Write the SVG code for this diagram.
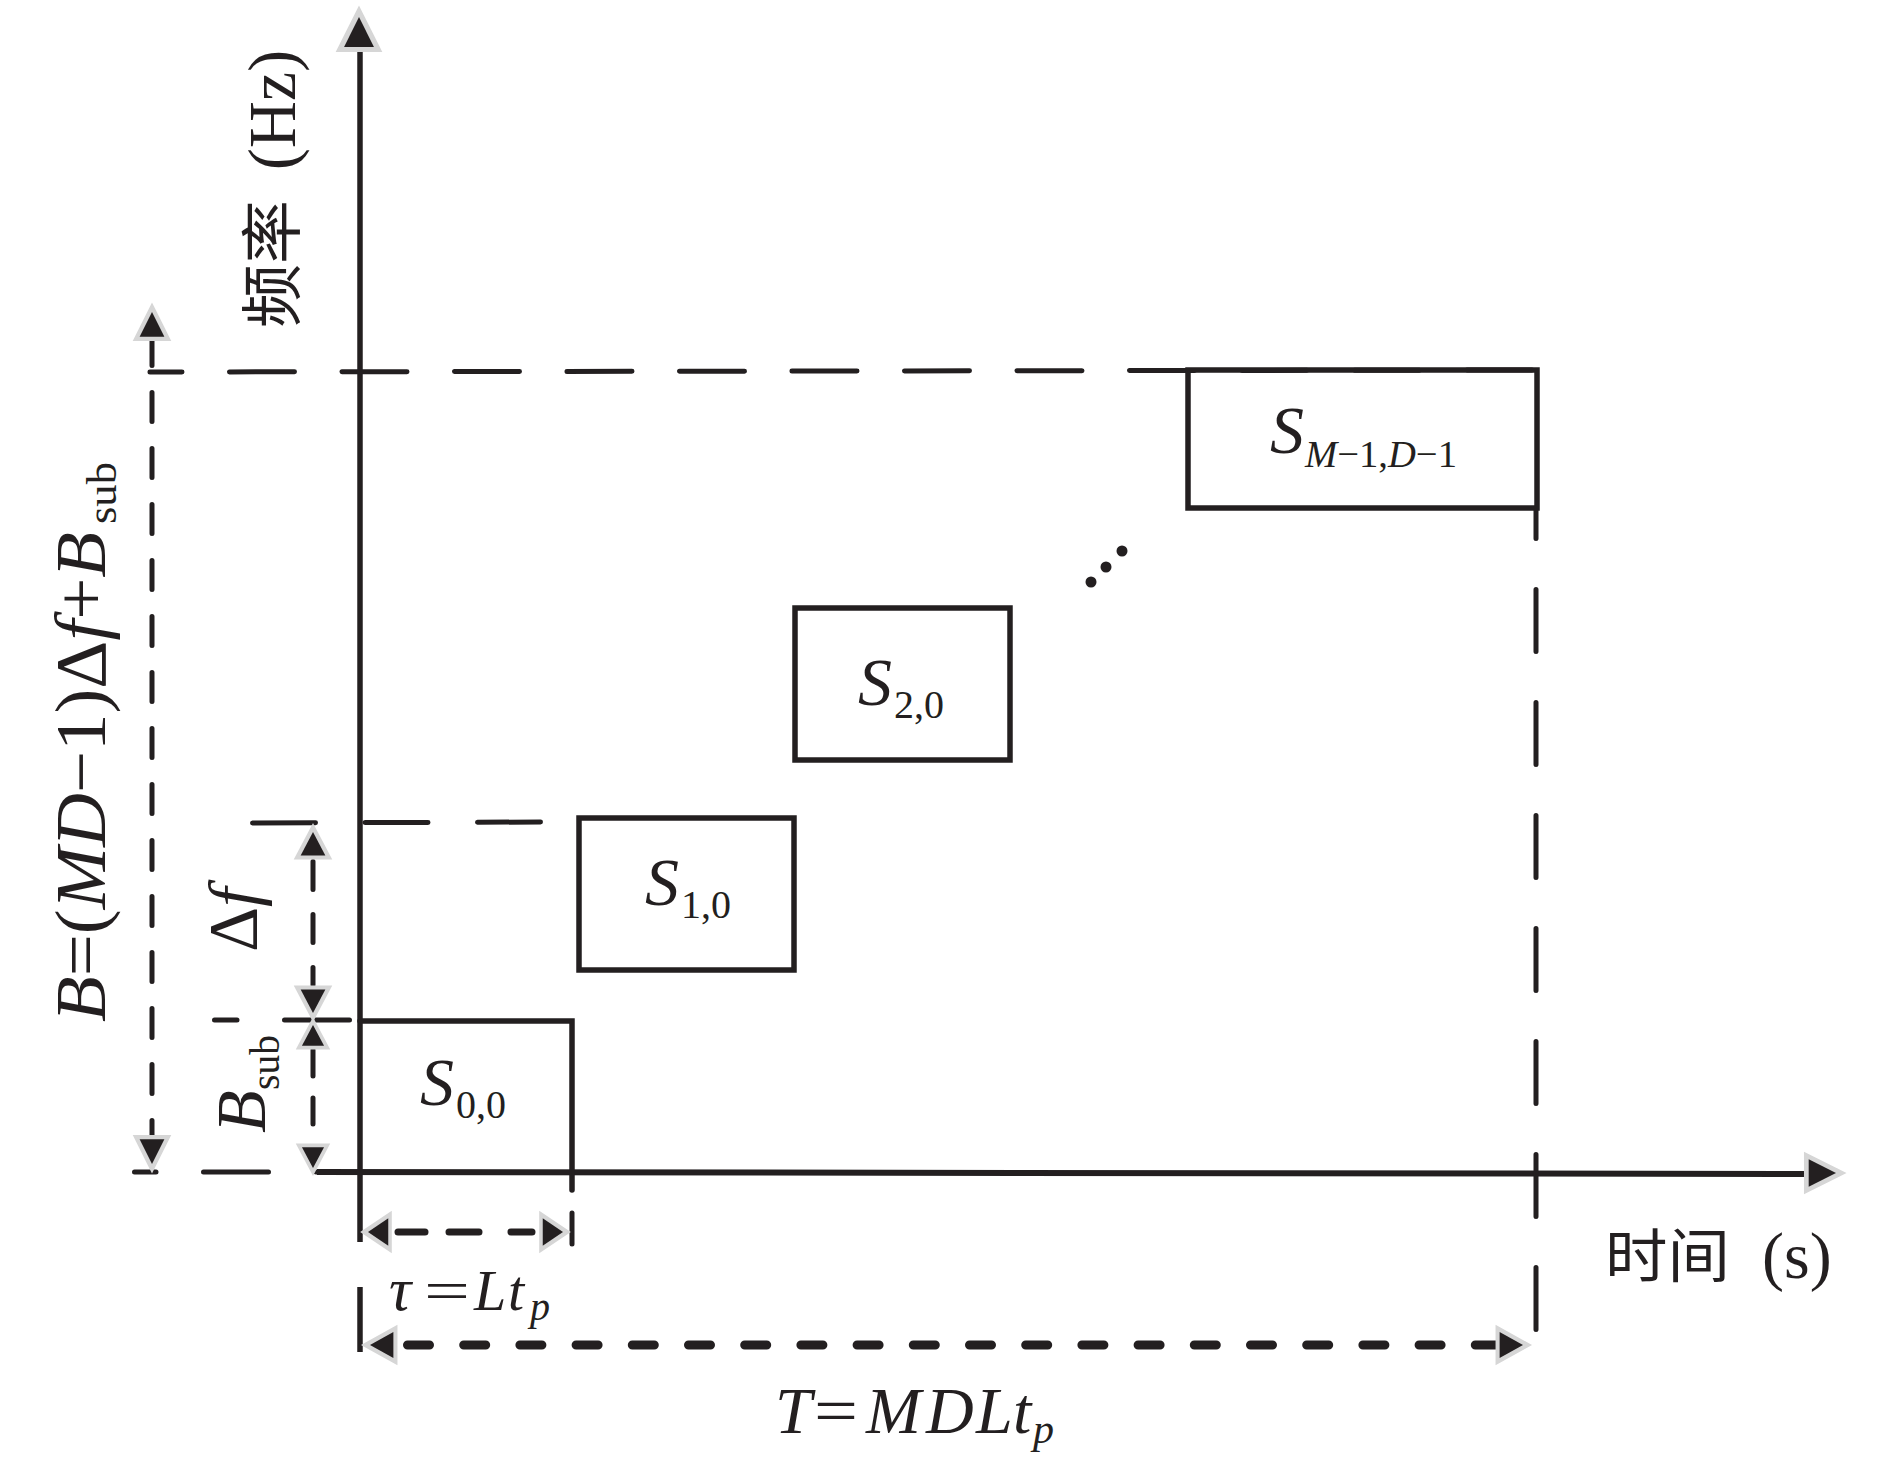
<svg xmlns="http://www.w3.org/2000/svg" xmlns:xlink="http://www.w3.org/1999/xlink" width="1890" height="1465" viewBox="0 0 1890 1465">
<style>
.ln{stroke:#231f20;stroke-width:5;fill:none;stroke-linecap:round}
.ax{stroke:#231f20;stroke-width:5.5;fill:none;stroke-linecap:butt}
.bx{stroke:#231f20;stroke-width:5.5;fill:none;stroke-linejoin:miter;stroke-linecap:round}
.ah{fill:#231f20;stroke:#d6d6d6;stroke-width:9;paint-order:stroke;stroke-linejoin:miter}
.t{font-family:"Liberation Serif","DejaVu Serif",serif;fill:#231f20}
.i{font-style:italic}
.cjk{font-family:"Noto Sans CJK SC","Noto Sans CJK JP",sans-serif;fill:#231f20}
</style>
<defs>
<path id="ah" class="ah" d="M0,0 L13,26 L-13,26 Z"/>
</defs>
<rect width="1890" height="1465" fill="#ffffff"/>

<g id="axes">
<line class="ax" x1="360" y1="40" x2="360" y2="1242"/>
<line class="ax" x1="360" y1="1287" x2="360" y2="1352"/>
<line class="ax" x1="317" y1="1172" x2="1812" y2="1174" style="stroke-width:6"/>
<use xlink:href="#ah" href="#ah" transform="translate(359,17) scale(1.15)"/>
<use xlink:href="#ah" href="#ah" transform="translate(1836,1173) rotate(90) scale(1.05)"/>
</g>

<g id="connectors">
<line class="ln" x1="150" y1="372" x2="1537" y2="370" stroke-dasharray="65 47.5" stroke-dashoffset="33"/>
<line class="ln" x1="152" y1="338" x2="152" y2="1138" stroke-dasharray="29 27" stroke-dashoffset="1.5"/>
<line class="ln" x1="134.5" y1="1172" x2="317" y2="1172" stroke-dasharray="65 47.5" stroke-dashoffset="43.5"/>
<line class="ln" x1="252.5" y1="823" x2="545" y2="822" stroke-dasharray="63 49.5"/>
<line class="ln" x1="214.5" y1="1020" x2="350" y2="1020" stroke-dasharray="65 47.5" stroke-dashoffset="42.5"/>
<line class="ln" x1="313" y1="855" x2="313" y2="985" stroke-dasharray="28 25" stroke-dashoffset="46.5"/>
<line class="ln" x1="313" y1="1050" x2="313" y2="1130" stroke-dasharray="26 22"/>
<line class="ln" x1="1536" y1="508" x2="1536" y2="1333" stroke-dasharray="62 51" stroke-dashoffset="31.5"/>
<line class="ln" x1="572" y1="1213" x2="572" y2="1244"/>
<path class="ln" d="M398,1232 H425 M449,1232 H479 M511,1232 H532" style="stroke-width:7"/>
<line class="ln" x1="407.5" y1="1345" x2="1497" y2="1345" stroke-dasharray="22 34.2" style="stroke-width:9"/>
<use xlink:href="#ah" href="#ah" transform="translate(152,312) scale(0.95)"/>
<use xlink:href="#ah" href="#ah" transform="translate(152,1164) rotate(180) scale(0.95)"/>
<use xlink:href="#ah" href="#ah" transform="translate(313,832) scale(0.95,0.9)"/>
<use xlink:href="#ah" href="#ah" transform="translate(313,1013) rotate(180) scale(0.95,0.9)"/>
<use xlink:href="#ah" href="#ah" transform="translate(313,1025) scale(0.85,0.8)"/>
<use xlink:href="#ah" href="#ah" transform="translate(313,1168) rotate(180) scale(0.85,0.8)"/>
<use xlink:href="#ah" href="#ah" transform="translate(368,1232) rotate(-90) scale(1.05,0.78)"/>
<use xlink:href="#ah" href="#ah" transform="translate(563,1232) rotate(90) scale(1.05,0.78)"/>
<use xlink:href="#ah" href="#ah" transform="translate(370,1345) rotate(-90) scale(1,0.9)"/>
<use xlink:href="#ah" href="#ah" transform="translate(1523,1345) rotate(90) scale(1,0.9)"/>
</g>

<g id="node-s00">
<path class="bx" d="M360,1021 H572 V1190"/>
<text class="t i" x="420" y="1105" font-size="68">S</text>
<text class="t" x="456" y="1118" font-size="40">0,0</text>
</g>
<g id="node-s10">
<rect class="bx" x="579" y="818" width="215" height="152"/>
<text class="t i" x="645" y="905" font-size="68">S</text>
<text class="t" x="681" y="918" font-size="40">1,0</text>
</g>
<g id="node-s20">
<rect class="bx" x="795" y="608" width="215" height="152"/>
<text class="t i" x="858" y="705" font-size="68">S</text>
<text class="t" x="894" y="718" font-size="40">2,0</text>
</g>
<g id="node-ellipsis">
<circle cx="1091" cy="582" r="5.5" fill="#231f20"/>
<circle cx="1106" cy="567" r="5.5" fill="#231f20"/>
<circle cx="1122" cy="551" r="5.5" fill="#231f20"/>
</g>
<g id="node-sm">
<rect class="bx" x="1188" y="370" width="349" height="138"/>
<text class="t i" x="1270" y="453" font-size="68">S</text>
<text class="t" x="1305" y="467" font-size="38" textLength="152" lengthAdjust="spacingAndGlyphs"><tspan class="i">M</tspan>−1,<tspan class="i">D</tspan>−1</text>
</g>

<g id="labels">
<text class="cjk" transform="translate(295,328) rotate(-90)" font-size="62" textLength="128" lengthAdjust="spacingAndGlyphs">频率</text>
<text class="t" transform="translate(295,170) rotate(-90)" font-size="68" textLength="120" lengthAdjust="spacingAndGlyphs">(Hz)</text>

<text class="t" transform="translate(105,1022) rotate(-90)" font-size="72" textLength="490" lengthAdjust="spacingAndGlyphs"><tspan class="i">B</tspan>=(<tspan class="i">MD</tspan>−1)Δ<tspan class="i">f</tspan>+<tspan class="i">B</tspan></text>
<text class="t" transform="translate(116,524) rotate(-90)" font-size="42" textLength="62" lengthAdjust="spacingAndGlyphs">sub</text>

<text class="t" transform="translate(257,952) rotate(-90)" font-size="70">Δ<tspan class="i">f</tspan></text>
<text class="t i" transform="translate(265,1133) rotate(-90)" font-size="70">B</text>
<text class="t" transform="translate(279,1090) rotate(-90)" font-size="42" textLength="55" lengthAdjust="spacingAndGlyphs">sub</text>

<text class="t i" x="389" y="1310" font-size="62">τ</text>
<text class="t" x="424" y="1310" font-size="58" textLength="46" lengthAdjust="spacingAndGlyphs">=</text>
<text class="t i" x="474" y="1310" font-size="58">L</text>
<text class="t i" x="508" y="1310" font-size="58">t</text>
<text class="t i" x="530" y="1320" font-size="40">p</text>

<text class="t i" x="775" y="1433" font-size="66">T</text>
<text class="t" x="814" y="1433" font-size="66" textLength="44" lengthAdjust="spacingAndGlyphs">=</text>
<text class="t i" x="866" y="1433" font-size="66">M</text>
<text class="t i" x="926" y="1433" font-size="66">D</text>
<text class="t i" x="976" y="1433" font-size="66">L</text>
<text class="t i" x="1013" y="1433" font-size="66">t</text>
<text class="t i" x="1033" y="1443" font-size="42">p</text>

<text class="cjk" x="1605" y="1277" font-size="58" textLength="125" lengthAdjust="spacingAndGlyphs">时间</text>
<text class="t" x="1762" y="1278" font-size="66">(s)</text>
</g>
</svg>
